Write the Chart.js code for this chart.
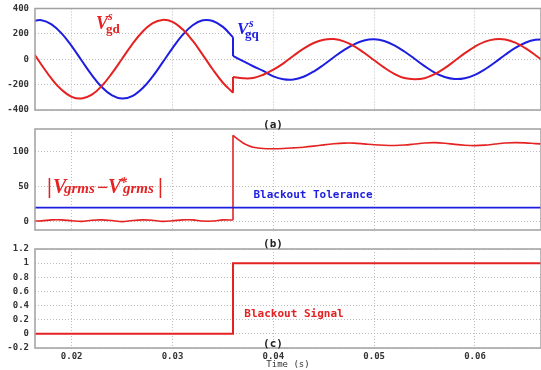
<!DOCTYPE html>
<html>
<head>
<meta charset="utf-8">
<script src="https://cdn.jsdelivr.net/npm/chart.js@4.4.1/dist/chart.umd.min.js"></script>
<style>
  body { margin: 0; background: #fff; }
  #wrap { position: relative; width: 541px; height: 370px; overflow: hidden; }
  canvas { position: absolute; left: 0; }
  .lbl { position: absolute; transform: translate(-50%, -50%); font-family: "DejaVu Sans Mono", monospace; font-weight: bold; font-size: 11px; line-height: 1; white-space: nowrap; }
  .m { position: absolute; font-family: "Liberation Serif", serif; font-weight: bold; font-style: italic; line-height: 1; white-space: nowrap; }
  .up { font-style: normal; }
  .red { color: #e52222; }
  .blue { color: #1e1ee0; }
</style>
</head>
<body>
<div id="wrap">
  <canvas id="chartA" width="541" height="118" style="top:0"></canvas>
  <canvas id="chartB" width="541" height="120" style="top:118px"></canvas>
  <canvas id="chartC" width="541" height="132" style="top:238px"></canvas>

  <span class="m red" style="left:96px;top:14px;font-size:18px">V</span>
  <span class="m red" style="left:108px;top:10px;font-size:12px">s</span>
  <span class="m red up" style="left:106px;top:22px;font-size:13px">gd</span>

  <span class="m blue" style="left:237px;top:20px;font-size:17px">V</span>
  <span class="m blue" style="left:249px;top:17px;font-size:12px">s</span>
  <span class="m blue up" style="left:245px;top:27px;font-size:13px">gq</span>

  <span class="m red up" style="left:47px;top:175px;font-size:22px">|</span>
  <span class="m red" style="left:53px;top:176px;font-size:20px">V</span>
  <span class="m red" style="left:64px;top:181px;font-size:15px">grms</span>
  <span class="m red up" style="left:97px;top:177px;font-size:20px">−</span>
  <span class="m red" style="left:108px;top:176px;font-size:20px">V</span>
  <span class="m red" style="left:120px;top:176px;font-size:14px">*</span>
  <span class="m red" style="left:123px;top:181px;font-size:15px">grms</span>
  <span class="m red up" style="left:158px;top:175px;font-size:22px">|</span>

  <span class="lbl blue" style="left:313px;top:194px">Blackout Tolerance</span>
  <span class="lbl red" style="left:294px;top:313px">Blackout Signal</span>
  <span class="lbl" style="left:273px;top:124px;color:#222">(a)</span>
  <span class="lbl" style="left:273px;top:243px;color:#222">(b)</span>
  <span class="lbl" style="left:273px;top:343px;color:#222">(c)</span>
</div>
<script>
// time axis
const tMin = 0.01636;
const tMax = 0.06655;
const timeTicks = [0.02, 0.03, 0.04, 0.05, 0.06];

// (a) grid voltage in the stationary frame, before and after the blackout at 36 ms
const tPre = [0.016, 0.017, 0.018, 0.019, 0.020, 0.021, 0.022, 0.023, 0.024, 0.025, 0.026,
              0.027, 0.028, 0.029, 0.030, 0.031, 0.032, 0.033, 0.034, 0.035, 0.036];
const vgdPre = [73, -43, -153, -241, -296, -309, -279, -209, -110, 4, 118,
                215, 282, 310, 294, 236, 146, 35, -81, -185, -264];
const vgqPre = [298, 308, 275, 204, 103, -12, -125, -221, -285, -310, -291,
                -231, -139, -27, 88, 192, 268, 307, 302, 255, 173];

const tPost = [0.036, 0.037, 0.038, 0.039, 0.040, 0.041, 0.042, 0.043, 0.044, 0.045, 0.046,
               0.047, 0.048, 0.049, 0.050, 0.051, 0.052, 0.053, 0.054, 0.055, 0.056,
               0.057, 0.058, 0.059, 0.060, 0.061, 0.062, 0.063, 0.064, 0.065, 0.066, 0.067];
const vgdPost = [-139, -150, -148, -122, -82, -32, 28, 84, 128, 154, 159,
                 141, 104, 51, -8, -66, -115, -148, -157, -149, -118,
                 -70, -12, 48, 100, 139, 158, 156, 131, 87, 32, -28];
const vgqPost = [26, -15, -55, -92, -135, -158, -160, -138, -97, -43, 16,
                 72, 118, 148, 157, 144, 110, 61, 4, -54, -105,
                 -140, -156, -150, -123, -79, -24, 35, 89, 130, 153, 155];
const vTicksA = [-400, -200, 0, 200, 400];

// (b) |Vgrms - V*grms| and the tolerance band
const tDevPre = tPre;
const devPre = [1, 1, 2.5, 2.5, 1.2, 0.3, 2, 2.5, 1.5, 0, 1.5,
                2.5, 2, 0.4, 1.2, 2.5, 2.5, 0.8, 0.8, 2.5, 2.2];
const tDevPost = [0.036, 0.0365, 0.037, 0.0375, 0.038, 0.039, 0.040, 0.041, 0.042, 0.043, 0.044,
                  0.045, 0.046, 0.047, 0.048, 0.049, 0.050, 0.051, 0.052, 0.053, 0.054,
                  0.055, 0.056, 0.057, 0.058, 0.059, 0.060, 0.061, 0.062, 0.063, 0.064,
                  0.065, 0.066, 0.067];
const devPost = [123.5, 117.5, 112.5, 109, 106.5, 104.5, 104.2, 104.6, 105.5, 106.5, 108,
                 109.8, 111.3, 112.3, 112.3, 111.2, 110, 109.3, 109, 109.5, 111,
                 112.5, 113, 112.2, 110.5, 109.2, 108.7, 109.4, 111, 112.5, 113,
                 112.6, 111.6, 110.8];
const tTol = [0.016, 0.067];
const tolerance = [20, 20];
const vTicksB = [0, 50, 100];

// (c) blackout flag
const tSig = [0.016, 0.036, 0.036, 0.067];
const signal = [0, 0, 1, 1];
const vTicksC = [-0.2, 0, 0.2, 0.4, 0.6, 0.8, 1, 1.2];

const RED = "#e52222";
const BLUE = "#1e1ee0";
const tickFont = { family: "DejaVu Sans Mono", size: 9, weight: "bold" };

const pts = (xs, ys) => xs.map((x, i) => ({ x: x, y: ys[i] }));
const jump = (x, a, b) => [{ x: x, y: a }, { x: x, y: b }];

function line(data, color, width, tension) {
  return {
    data: data,
    borderColor: color,
    borderWidth: width,
    pointRadius: 0,
    tension: tension,
    fill: false,
  };
}

// grey box round each plot area
const frame = {
  id: "frame",
  afterDraw(chart) {
    const { ctx, chartArea: a } = chart;
    ctx.save();
    ctx.strokeStyle = "#a0a0a0";
    ctx.lineWidth = 1.5;
    ctx.strokeRect(a.left, a.top, a.right - a.left, a.bottom - a.top);
    ctx.restore();
  }
};

const gridStyle = { color: "#bdbdbd", lineWidth: 1, drawTicks: false };

function makeChart(id, datasets, yMin, yMax, yTicks, fmt, pad, showTime) {
  return new Chart(document.getElementById(id), {
    type: "line",
    data: { datasets: datasets },
    options: {
      responsive: false,
      animation: false,
      events: [],
      layout: { padding: { left: 0, right: 0, top: pad.top, bottom: pad.bottom } },
      plugins: { legend: { display: false }, tooltip: { enabled: false } },
      scales: {
        x: {
          type: "linear",
          min: tMin,
          max: tMax,
          afterBuildTicks: (s) => { s.ticks = timeTicks.map((v) => ({ value: v })); },
          afterFit: (s) => {
            s.height = showTime ? 22 : 0;
            s.paddingLeft = 0;
            s.paddingRight = 0;
          },
          grid: gridStyle,
          border: { display: false, dash: [1, 2] },
          ticks: {
            display: showTime,
            padding: 3,
            maxRotation: 0,
            color: "#333",
            font: tickFont,
            callback: (v) => v.toFixed(2),
          },
          title: {
            display: showTime,
            text: "Time (s)",
            color: "#333",
            font: { family: "DejaVu Sans Mono", size: 9 },
            padding: { top: 0, bottom: 0 },
          },
        },
        y: {
          min: yMin,
          max: yMax,
          afterBuildTicks: (s) => { s.ticks = yTicks.map((v) => ({ value: v })); },
          afterFit: (s) => {
            s.width = 35;
            s.paddingTop = 0;
            s.paddingBottom = 0;
          },
          grid: gridStyle,
          border: { display: false, dash: [1, 2] },
          ticks: { padding: 6, color: "#333", font: tickFont, callback: fmt },
        },
      },
    },
    plugins: [frame],
  });
}

makeChart("chartA", [
  line(pts(tPre, vgdPre), RED, 2, 0.4),
  line(jump(0.036, vgdPre[vgdPre.length - 1], vgdPost[0]), RED, 2, 0),
  line(pts(tPost, vgdPost), RED, 2, 0.4),
  line(pts(tPre, vgqPre), BLUE, 2, 0.4),
  line(jump(0.036, vgqPre[vgqPre.length - 1], vgqPost[0]), BLUE, 2, 0),
  line(pts(tPost, vgqPost), BLUE, 2, 0.4),
], -400, 400, vTicksA, (v) => String(v), { top: 8.5, bottom: 8 }, false);

makeChart("chartB", [
  line(pts(tTol, tolerance), BLUE, 1.8, 0),
  line(pts(tDevPre, devPre), RED, 1.6, 0.3),
  line(jump(0.036, devPre[devPre.length - 1], devPost[0]), RED, 1.6, 0),
  line(pts(tDevPost, devPost), RED, 1.6, 0.3),
], -12, 132.5, vTicksB, (v) => String(v), { top: 11, bottom: 8 }, false);

makeChart("chartC", [
  line(pts(tSig, signal), RED, 2, 0),
], -0.2, 1.2, vTicksC, (v) => String(Number(v.toFixed(1))), { top: 11, bottom: 0 }, true);
</script>
</body>
</html>
